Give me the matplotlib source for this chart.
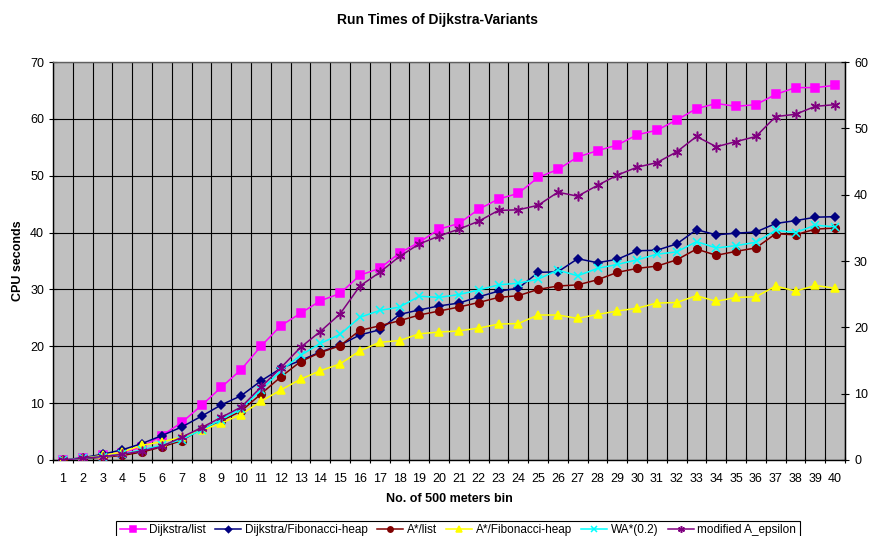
import matplotlib
matplotlib.use("Agg")

import matplotlib.pyplot as plt

plt.rcParams["font.family"] = ["Liberation Sans", "DejaVu Sans"]

bins = list(range(1, 41))

dijkstra_list = [0.0, 0.3, 0.8, 1.3, 2.3, 4.3, 6.6, 9.6, 12.8, 15.9,
                 20.0, 23.6, 25.8, 28.0, 29.3, 32.5, 33.7, 36.4, 38.3, 40.6,
                 41.6, 44.1, 45.9, 46.9, 49.7, 51.1, 53.3, 54.4, 55.4, 57.2,
                 58.0, 59.8, 61.8, 62.7, 62.2, 62.5, 64.3, 65.5, 65.5, 65.9]
dijkstra_fib = [0.0, 0.4, 1.0, 1.8, 2.9, 4.3, 5.8, 7.7, 9.7, 11.3,
                13.9, 16.1, 17.5, 19.0, 20.2, 22.0, 22.9, 25.6, 26.4, 27.1,
                27.6, 28.7, 29.7, 30.2, 33.0, 33.1, 35.4, 34.7, 35.3, 36.8,
                36.9, 38.0, 40.5, 39.6, 39.9, 40.1, 41.6, 42.1, 42.7, 42.8]
astar_list = [0.0, 0.2, 0.5, 0.8, 1.4, 2.3, 3.4, 5.5, 6.9, 8.6,
              11.6, 14.6, 17.3, 18.9, 20.1, 22.8, 23.6, 24.5, 25.5, 26.2,
              26.9, 27.7, 28.6, 28.9, 30.0, 30.6, 30.8, 31.7, 33.0, 33.7,
              34.1, 35.2, 37.1, 36.0, 36.7, 37.3, 39.8, 39.6, 40.6, 40.8]
astar_fib = [0.0, 0.3, 0.8, 1.4, 2.6, 3.2, 4.0, 5.2, 6.5, 8.0,
             10.3, 12.3, 14.2, 15.7, 16.9, 19.2, 20.7, 21.0, 22.2, 22.5,
             22.7, 23.2, 23.9, 24.0, 25.5, 25.5, 24.9, 25.6, 26.2, 26.7,
             27.6, 27.7, 28.9, 27.9, 28.6, 28.7, 30.6, 29.7, 30.7, 30.2]
wa_star = [0.0, 0.3, 0.6, 1.0, 1.8, 2.6, 3.6, 5.3, 7.1, 9.0,
           12.3, 15.7, 18.4, 20.5, 22.1, 25.1, 26.3, 26.9, 28.8, 28.6,
           29.1, 29.9, 30.8, 31.1, 31.8, 33.4, 32.4, 33.7, 34.4, 35.2,
           36.2, 36.6, 38.4, 37.3, 37.7, 38.3, 40.4, 40.0, 41.3, 41.0]
mod_epsilon = [0.0, 0.3, 0.6, 1.0, 1.6, 2.4, 4.0, 5.7, 7.5, 9.3,
               12.8, 16.2, 19.8, 22.6, 25.7, 30.6, 33.0, 35.8, 38.0, 39.4,
               40.6, 42.0, 43.9, 44.0, 44.8, 47.1, 46.4, 48.3, 50.1, 51.5,
               52.3, 54.2, 56.9, 55.1, 56.0, 56.9, 60.4, 60.8, 62.2, 62.5]

series = [
    ("Dijkstra/list", dijkstra_list, "#FF00FF", "s", 5.5),
    ("Dijkstra/Fibonacci-heap", dijkstra_fib, "#000080", "D", 4.5),
    ("A*/list", astar_list, "#800000", "o", 5.5),
    ("A*/Fibonacci-heap", astar_fib, "#FFFF00", "^", 6),
    ("WA*(0.2)", wa_star, "#00FFFF", "x", 6),
    ("modified A_epsilon", mod_epsilon, "#800080", (6, 2, 0), 7),
]

fig = plt.figure(figsize=(8.69, 5.36), dpi=100)
ax = fig.add_axes([53 / 869, 1 - 460 / 536, (845 - 53) / 869, (460 - 62) / 536])
ax.set_facecolor("#C0C0C0")

# grid: horizontal at every 10, vertical at category boundaries
for yv in range(0, 71, 10):
    ax.axhline(yv, color="black", lw=0.8, zorder=1)
for xb in range(0, 41):
    ax.axvline(xb + 0.5, color="black", lw=0.8, zorder=1)

for name, vals, col, mk, ms in series:
    ax.plot(bins, vals, color=col, marker=mk, markersize=ms, lw=1.1,
            markeredgecolor=col, markerfacecolor=col, markeredgewidth=1.1,
            label=name, zorder=3)

ax.set_xlim(0.5, 40.5)
ax.set_ylim(0, 70)
ax.set_yticks(range(0, 71, 10))
ax.set_xticks(bins)
ax.set_xticklabels([str(b) for b in bins])
ax.set_xticks([b + 0.5 for b in range(0, 41)], minor=True)
ax.tick_params(axis="x", which="major", length=0, labelsize=9, pad=9)
ax.tick_params(axis="x", which="minor", length=5, direction="inout", width=0.8)
ax.tick_params(axis="y", length=6, direction="inout", labelsize=9, width=0.8)
for s in ax.spines.values():
    s.set_color("black")
    s.set_linewidth(1.0)
ax.spines["top"].set_color("#606060")

ax2 = ax.twinx()
ax2.set_ylim(0, 60)
ax2.set_yticks(range(0, 61, 10))
ax2.tick_params(axis="y", length=6, direction="inout", labelsize=9, width=0.8)
for s in ax2.spines.values():
    s.set_visible(False)
ax2.spines["right"].set_visible(True)
ax2.spines["right"].set_color("black")

ax.set_xlabel("No. of 500 meters bin", fontsize=9, fontweight="bold", labelpad=6)
ax.set_ylabel("CPU seconds", fontsize=9, fontweight="bold", labelpad=4)
fig.text(0.503, 1 - 20 / 536, "Run Times of Dijkstra-Variants", ha="center", va="center",
         fontsize=10, fontweight="bold")

leg = fig.legend(*ax.get_legend_handles_labels(), loc="upper center",
                 bbox_to_anchor=(0.527, 1 - 515 / 536), ncol=6, fontsize=8.5,
                 frameon=True, fancybox=False, edgecolor="black", framealpha=1,
                 handlelength=2.2, handletextpad=0.3, columnspacing=0.8,
                 borderpad=0.3, markerscale=0.7)
leg.get_frame().set_linewidth(0.8)

fig.savefig("out.png", dpi=100)
plt.close(fig)
